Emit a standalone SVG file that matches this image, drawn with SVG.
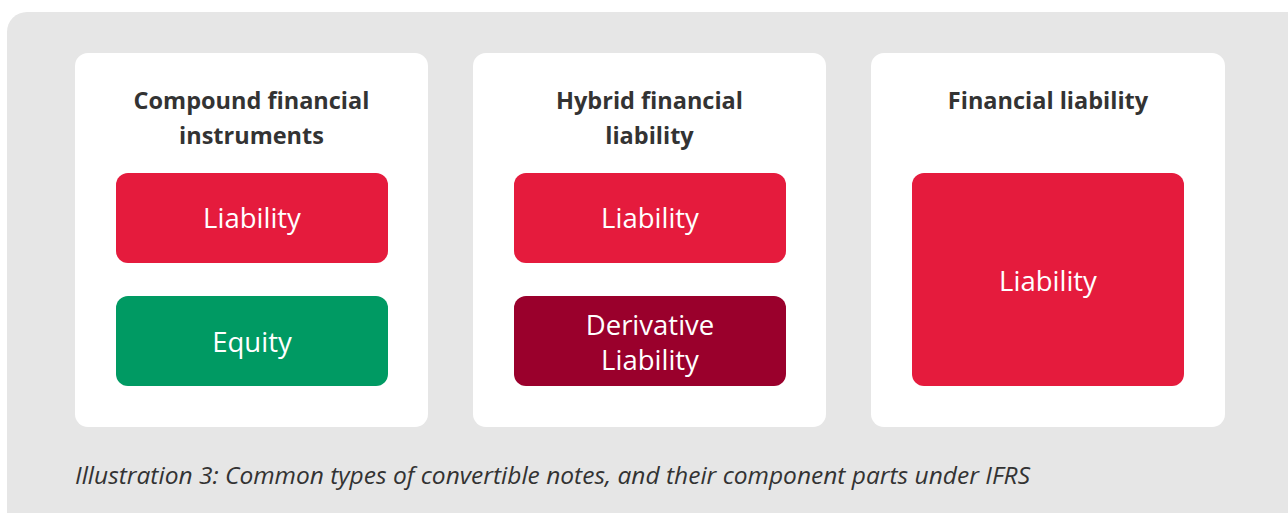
<svg xmlns="http://www.w3.org/2000/svg" width="1288" height="513" viewBox="0 0 1288 513">
<style>
.card{fill:#ffffff}
.head{font-family:"Open Sans","Liberation Sans",sans-serif;font-weight:700;font-size:23.5px;fill:#333333;text-anchor:middle}
.lbl{font-family:"Open Sans","Liberation Sans",sans-serif;font-size:27.5px;fill:#ffffff;text-anchor:middle}
.red{fill:#e51b3d}
.green{fill:#009a63}
.dark{fill:#9a002c}
.cap{font-family:"Open Sans","Liberation Sans",sans-serif;font-style:italic;font-size:23px;fill:#333333}
</style>
<rect x="7" y="12" width="1320" height="540" rx="20" fill="#e6e6e6"/>
<g id="card-compound">
<rect class="card" x="75" y="53" width="353" height="374" rx="13"/>
<text class="head" x="251.5" y="109">Compound financial</text>
<text class="head" x="251.5" y="144">instruments</text>
</g>
<g id="compound-liability">
<rect class="red" x="116" y="173" width="272" height="90" rx="12"/>
<text class="lbl" x="252" y="228">Liability</text>
</g>
<g id="compound-equity">
<rect class="green" x="116" y="296" width="272" height="90" rx="12"/>
<text class="lbl" x="252" y="352">Equity</text>
</g>
<g id="card-hybrid">
<rect class="card" x="473" y="53" width="353" height="374" rx="13"/>
<text class="head" x="649.5" y="109">Hybrid financial</text>
<text class="head" x="649.5" y="144">liability</text>
</g>
<g id="hybrid-liability">
<rect class="red" x="514" y="173" width="272" height="90" rx="12"/>
<text class="lbl" x="650" y="228">Liability</text>
</g>
<g id="hybrid-derivative">
<rect class="dark" x="514" y="296" width="272" height="90" rx="12"/>
<text class="lbl" x="650" y="335">Derivative</text>
<text class="lbl" x="650" y="370">Liability</text>
</g>
<g id="card-financial">
<rect class="card" x="871" y="53" width="354" height="374" rx="13"/>
<text class="head" x="1048" y="109">Financial liability</text>
</g>
<g id="financial-liability">
<rect class="red" x="912" y="173" width="272" height="213" rx="12"/>
<text class="lbl" x="1048" y="291">Liability</text>
</g>
<g id="connectors"></g>
<text class="cap" x="75" y="484" textLength="955" lengthAdjust="spacingAndGlyphs">Illustration 3: Common types of convertible notes, and their component parts under IFRS</text>
</svg>
